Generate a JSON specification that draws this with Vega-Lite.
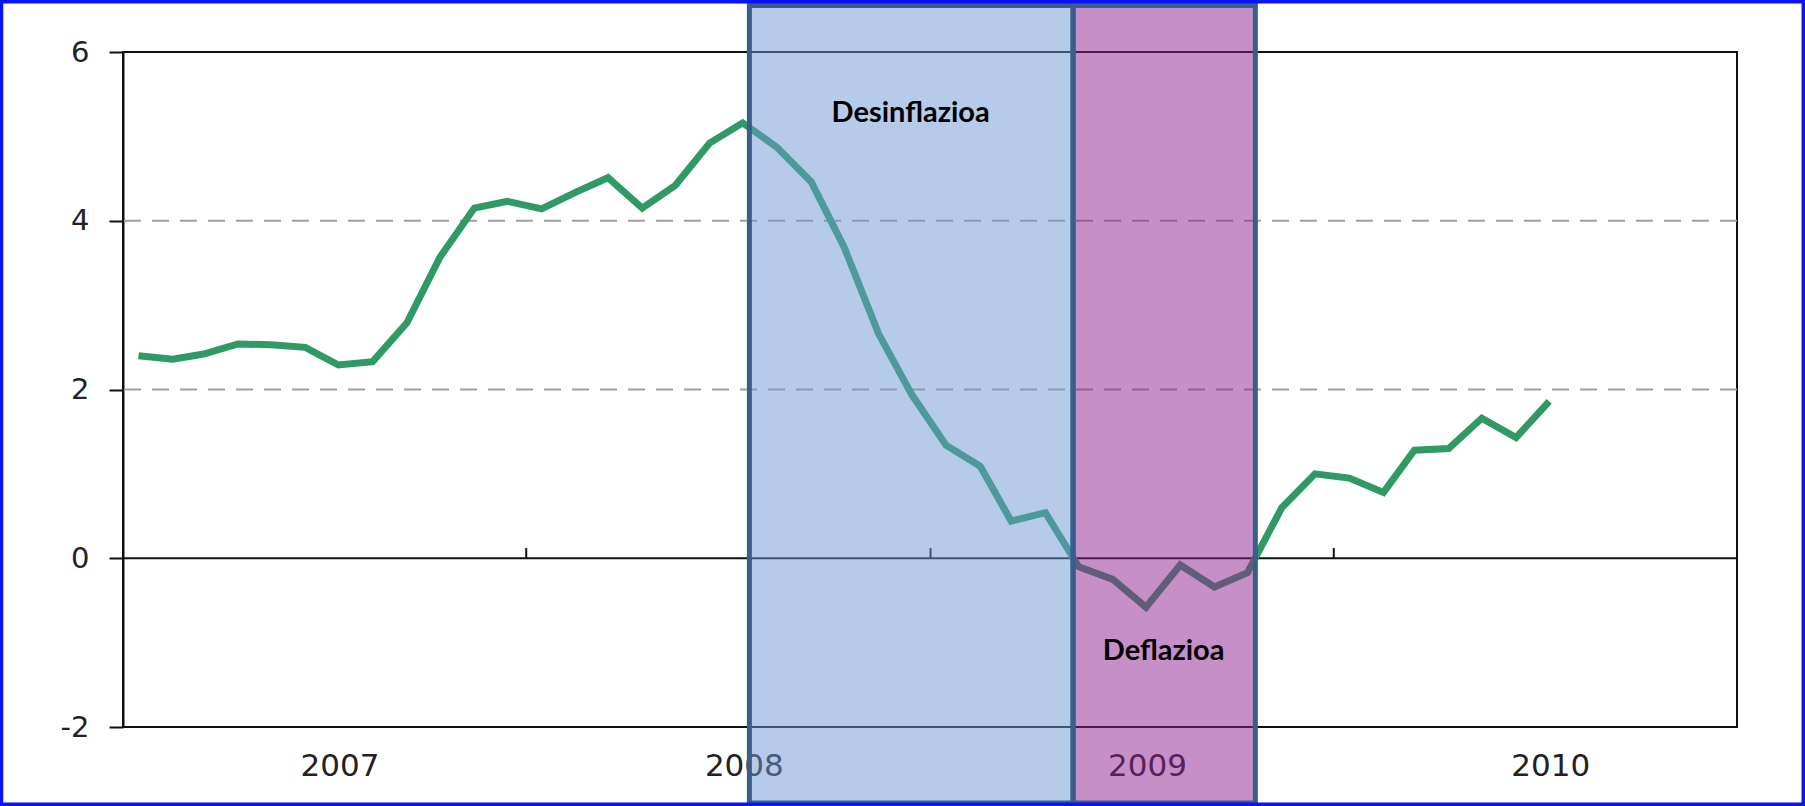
{
  "$schema": "https://vega.github.io/schema/vega-lite/v6.json",
  "width": 1614,
  "height": 675,
  "autosize": {"type": "none"},
  "padding": {"left": 123, "top": 52, "right": 68, "bottom": 79},
  "background": "white",
  "config": {
    "view": {"stroke": "#111111", "strokeWidth": 2},
    "axis": {"labelFont": "DejaVu Sans", "labelColor": "#222222"}
  },
  "datasets": {
    "cpi": [
      {"month": "2007-01-15", "value": 2.40},
      {"month": "2007-02-15", "value": 2.36},
      {"month": "2007-03-15", "value": 2.42},
      {"month": "2007-04-15", "value": 2.54},
      {"month": "2007-05-15", "value": 2.53},
      {"month": "2007-06-15", "value": 2.50},
      {"month": "2007-07-15", "value": 2.29},
      {"month": "2007-08-15", "value": 2.33},
      {"month": "2007-09-15", "value": 2.79},
      {"month": "2007-10-15", "value": 3.57},
      {"month": "2007-11-15", "value": 4.15},
      {"month": "2007-12-15", "value": 4.23},
      {"month": "2008-01-15", "value": 4.14},
      {"month": "2008-02-15", "value": 4.34},
      {"month": "2008-03-15", "value": 4.51},
      {"month": "2008-04-15", "value": 4.15},
      {"month": "2008-05-15", "value": 4.42},
      {"month": "2008-06-15", "value": 4.92},
      {"month": "2008-07-15", "value": 5.16},
      {"month": "2008-08-15", "value": 4.87},
      {"month": "2008-09-15", "value": 4.46},
      {"month": "2008-10-15", "value": 3.68},
      {"month": "2008-11-15", "value": 2.66},
      {"month": "2008-12-15", "value": 1.94},
      {"month": "2009-01-15", "value": 1.34},
      {"month": "2009-02-15", "value": 1.09},
      {"month": "2009-03-15", "value": 0.44},
      {"month": "2009-04-15", "value": 0.54},
      {"month": "2009-05-15", "value": -0.10},
      {"month": "2009-06-15", "value": -0.25},
      {"month": "2009-07-15", "value": -0.58},
      {"month": "2009-08-15", "value": -0.08},
      {"month": "2009-09-15", "value": -0.34},
      {"month": "2009-10-15", "value": -0.17},
      {"month": "2009-11-15", "value": 0.60},
      {"month": "2009-12-15", "value": 1.00},
      {"month": "2010-01-15", "value": 0.95},
      {"month": "2010-02-15", "value": 0.78},
      {"month": "2010-03-15", "value": 1.28},
      {"month": "2010-04-15", "value": 1.30},
      {"month": "2010-05-15", "value": 1.66},
      {"month": "2010-06-15", "value": 1.43},
      {"month": "2010-07-15", "value": 1.86}
    ],
    "bands": [
      {"phase": "Desinflazioa", "start": "2008-07-21", "end": "2009-05-10"},
      {"phase": "Deflazioa", "start": "2009-05-10", "end": "2009-10-22"}
    ],
    "grid": [{"level": 2}, {"level": 4}],
    "yearTicks": [{"year": "2008-01-01"}, {"year": "2009-01-01"}, {"year": "2010-01-01"}]
  },
  "layer": [
    {
      "data": {"name": "grid"},
      "mark": {"type": "rule", "color": "#A0A0A0", "strokeWidth": 2, "strokeDash": [17, 11]},
      "encoding": {
        "y": {"field": "level", "type": "quantitative",
              "scale": {"domain": [-2, 6], "nice": false, "zero": false},
              "axis": {"values": [-2, 0, 2, 4, 6], "title": null, "grid": false,
                       "labelExpr": "'' + datum.value",
                       "tickSize": 14, "tickWidth": 2, "tickColor": "#111111",
                       "domainColor": "#111111", "domainWidth": 2,
                       "labelFontSize": 29, "labelPadding": 20}}
      }
    },
    {
      "data": {"values": [{}]},
      "mark": {"type": "rule", "color": "#111111", "strokeWidth": 2},
      "encoding": {"y": {"datum": 0, "type": "quantitative"}}
    },
    {
      "data": {"name": "yearTicks"},
      "mark": {"type": "rule", "color": "#111111", "strokeWidth": 2},
      "encoding": {
        "x": {"field": "year", "type": "temporal"},
        "y": {"datum": 0, "type": "quantitative"},
        "y2": {"datum": 0.12}
      }
    },
    {
      "data": {"name": "cpi"},
      "mark": {"type": "line", "color": "#2F9A63", "strokeWidth": 7},
      "encoding": {
        "x": {"field": "month", "type": "temporal",
              "scale": {"domain": [{"year": 2007, "month": 1, "date": 1}, {"year": 2011, "month": 1, "date": 1}], "nice": false},
              "axis": {"title": null, "grid": false, "ticks": false, "tickSize": 0, "domain": false,
                       "values": [{"year": 2007, "month": 7, "date": 16}, {"year": 2008, "month": 7, "date": 16},
                                  {"year": 2009, "month": 7, "date": 16}, {"year": 2010, "month": 7, "date": 16}],
                       "format": "%Y", "labelFontSize": 31, "labelPadding": 24}},
        "y": {"field": "value", "type": "quantitative"}
      }
    },
    {
      "data": {"name": "bands"},
      "mark": {"type": "rect", "fillOpacity": 0.5, "stroke": "#3A5E8C", "strokeWidth": 5, "strokeOpacity": 1},
      "encoding": {
        "x": {"field": "start", "type": "temporal"},
        "x2": {"field": "end"},
        "y": {"datum": 6.55, "type": "quantitative"},
        "y2": {"datum": -2.9},
        "fill": {"field": "phase", "type": "nominal",
                 "scale": {"domain": ["Desinflazioa", "Deflazioa"], "range": ["#6B97D3", "#901F90"]},
                 "legend": null}
      }
    },
    {
      "data": {"name": "bands"},
      "transform": [{"filter": "datum.phase == 'Desinflazioa'"}],
      "mark": {"type": "text", "font": "Lato", "fontWeight": "bold", "fontSize": 29, "color": "#000000", "align": "center", "baseline": "alphabetic"},
      "encoding": {
        "x": {"datum": {"year": 2008, "month": 12, "date": 14}, "type": "temporal"},
        "y": {"datum": 5.17, "type": "quantitative"},
        "text": {"field": "phase"}
      }
    },
    {
      "data": {"name": "bands"},
      "transform": [{"filter": "datum.phase == 'Deflazioa'"}],
      "mark": {"type": "text", "font": "Lato", "fontWeight": "bold", "fontSize": 29, "color": "#000000", "align": "center", "baseline": "alphabetic"},
      "encoding": {
        "x": {"datum": {"year": 2009, "month": 7, "date": 31}, "type": "temporal"},
        "y": {"datum": -1.206, "type": "quantitative"},
        "text": {"field": "phase"}
      }
    },
    {
      "data": {"values": [{}]},
      "mark": {"type": "rect", "fill": null, "fillOpacity": 0, "stroke": "#0A14F5", "strokeWidth": 3.5},
      "encoding": {
        "x": {"datum": {"year": 2006, "month": 9, "date": 13}, "type": "temporal"},
        "x2": {"datum": {"year": 2011, "month": 3, "date": 2}},
        "y": {"datum": 6.596, "type": "quantitative"},
        "y2": {"datum": -2.916}
      }
    }
  ]
}
